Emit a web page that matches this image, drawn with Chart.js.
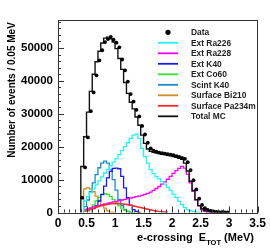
<!DOCTYPE html>
<html><head><meta charset="utf-8">
<script src="https://cdn.jsdelivr.net/npm/chart.js@4/dist/chart.umd.min.js"></script>
<style>html,body{margin:0;padding:0;background:#fff}#c{display:block}</style>
</head><body>
<canvas id="c" width="270" height="249"></canvas>
<script>
// Lower edges of the 0.05 MeV bins
const energyLow = [0.40,0.45,0.50,0.55,0.60,0.65,0.70,0.75,0.80,0.85,0.90,0.95,
  1.00,1.05,1.10,1.15,1.20,1.25,1.30,1.35,1.40,1.45,1.50,1.55,1.60,1.65,1.70,1.75,1.80,1.85,1.90,1.95,
  2.00,2.05,2.10,2.15,2.20,2.25,2.30,2.35,2.40,2.45,2.50,2.55,2.60,2.65,2.70,2.75,2.80,2.85,2.90,2.95];
const binWidth = 0.05;
const xTickValues = [0,0.5,1,1.5,2,2.5,3,3.5];
const yTickValues = [0,10000,20000,30000,40000,50000];

const dataCounts = [4500,13700,22800,30800,36500,41700,46200,49300,51800,52700,53400,52500,
  51600,50200,46500,43200,39800,36000,33700,31200,29200,26300,23700,21200,19500,18800,18500,18200,18000,17900,17700,17600,
  17400,17100,16900,16600,16300,15300,12900,9800,7000,4200,2300,1300,780,480,300,190,120,80,55,35];
const totalMC = [4800,14000,23000,30500,36800,42000,45800,49000,51500,53000,53300,52800,
  51800,49800,46800,43500,39500,36200,33500,31500,29000,26500,23500,21000,19300,18600,18300,18100,17900,17700,17600,17400,
  17200,17000,16800,16500,16200,15000,12600,9500,6700,3900,2100,1200,700,420,260,170,110,70,45,25];
const extRa226 = [null,2300,3500,4800,6000,7200,8400,9600,10800,12000,13100,14200,
  15300,16400,17600,18800,20000,21200,22500,23500,23800,22500,19500,17000,15000,13000,11800,10900,10200,9400,8600,7700,
  6700,5600,4500,3400,2400,1500,900,500,250,100];
const extRa228 = [null,400,800,1100,1400,1700,1900,2100,2400,2600,2800,3000,
  3200,3400,3600,3800,4000,4200,4400,4600,4800,5000,5200,5500,5800,6200,6700,7300,7900,8600,9300,10100,
  11000,11900,12700,13400,14000,13500,11600,9000,6400,3800,2000,900,300,100];
const extK40 = [null,null,null,null,600,1200,2000,3500,5500,8000,10500,12500,
  13400,13500,13300,11000,7500,4500,2200,900,300];
const extCo60 = [null,null,null,400,1200,2300,3500,4600,5400,5700,5500,4800,
  3900,2900,2000,1300,700,300,100];
const scintK40 = [null,500,1800,3800,6300,9000,11500,13600,15000,15600,15000,13000,
  10000,6800,4000,2100,900,300];
const surfBi210 = [null,5000,7200,7500,7200,6300,5000,3700,2400,1300,500,100];
const surfPa234m = [null,300,700,1000,1300,1600,1900,2100,2300,2500,2600,2700,
  2700,2700,2600,2500,2400,2200,2000,1800,1600,1400,1200,1000,800,600,450,300,200,100,50];

const seriesNames = ['Data','Ext Ra226','Ext Ra228','Ext K40','Ext Co60','Scint K40','Surface Bi210','Surface Pa234m','Total MC'];

function histPoints(vals){
  const pts=[]; let last=-1;
  for(let i=0;i<vals.length;i++){
    const v=vals[i]; if(v==null) continue;
    if(last<0) pts.push({x:energyLow[i],y:0});
    pts.push({x:energyLow[i],y:v}); last=i;
  }
  pts.push({x:energyLow[last]+binWidth,y:0});
  return pts;
}
function centerPoints(vals){
  const pts=[];
  for(let i=0;i<vals.length;i++){ if(vals[i]!=null) pts.push({x:energyLow[i]+binWidth/2,y:vals[i]}); }
  return pts;
}
function hist(label,vals,color,order,w){
  return {label,data:histPoints(vals),borderColor:color,backgroundColor:color,borderWidth:w||1.3,
    stepped:'after',pointRadius:0,fill:false,order};
}
const datasets = [
  {label:seriesNames[0],data:centerPoints(dataCounts),showLine:false,pointRadius:1.9,pointStyle:'circle',
   pointBackgroundColor:'#000',pointBorderWidth:0,borderColor:'#000',backgroundColor:'#000',order:0},
  hist(seriesNames[1],extRa226,'#22f4f4',3),
  hist(seriesNames[2],extRa228,'#ff00ff',3),
  hist(seriesNames[3],extK40,'#1a1aee',3),
  hist(seriesNames[4],extCo60,'#2ee62e',3),
  hist(seriesNames[5],scintK40,'#1c88d2',3),
  hist(seriesNames[6],surfBi210,'#d08c1e',3),
  {label:seriesNames[7],data:centerPoints(surfPa234m),borderColor:'#ff2a2a',backgroundColor:'#ff2a2a',
   borderWidth:1.6,pointRadius:0,fill:false,order:2,tension:0.3},
  hist(seriesNames[8],totalMC,'#111',1,1.4)
];

const FONT='Liberation Sans, Arial, sans-serif';
const decor = {
  id:'decor',
  afterDatasetsDraw(chart){
    const {ctx, chartArea:a, scales:{x,y}} = chart;
    ctx.save();
    ctx.strokeStyle='#333'; ctx.lineWidth=1;
    ctx.strokeRect(Math.round(a.left)+0.5, Math.round(a.top)+0.5, Math.round(a.right-a.left)-1, Math.round(a.bottom-a.top));
    ctx.beginPath();
    for(let k=0;k<=35;k++){
      const px=Math.round(x.getPixelForValue(k/10))+0.5, len=(k%5===0)?6:3;
      ctx.moveTo(px,a.bottom); ctx.lineTo(px,a.bottom-len);
    }
    for(let k=0;k<=29;k++){
      const py=Math.round(y.getPixelForValue(k*2000))+0.5, len=(k%5===0)?6:3;
      ctx.moveTo(a.left,py); ctx.lineTo(a.left+len,py);
    }
    ctx.stroke();
    // legend
    const lx0=158, lx1=178, tx=191, y0=32.3, dy=10.5;
    chart.data.datasets.forEach((ds,i)=>{
      const yy=y0+i*dy;
      if(i===0){ ctx.fillStyle='#000'; ctx.beginPath(); ctx.arc((lx0+lx1)/2,yy,2.6,0,Math.PI*2); ctx.fill(); }
      else { ctx.strokeStyle=ds.borderColor; ctx.lineWidth=1.8; ctx.beginPath(); ctx.moveTo(lx0,yy); ctx.lineTo(lx1,yy); ctx.stroke(); }
      ctx.fillStyle='#222'; ctx.font='bold 8.4px '+FONT; ctx.textAlign='left'; ctx.textBaseline='middle';
      ctx.fillText(ds.label,tx,yy+0.5);
    });
    // axis titles
    ctx.fillStyle='#000';
    ctx.save(); ctx.translate(12,90); ctx.rotate(-Math.PI/2);
    ctx.font='bold 10px '+FONT; ctx.textAlign='center'; ctx.textBaseline='middle';
    ctx.fillText('Number of events / 0.05 MeV',0,0); ctx.restore();
    const p1='e-crossing  E', p2='TOT', p3=' (MeV)';
    ctx.textBaseline='alphabetic'; ctx.textAlign='left';
    ctx.font='bold 11px '+FONT; const w1=ctx.measureText(p1).width, w3=ctx.measureText(p3).width;
    ctx.font='bold 7.5px '+FONT; const w2=ctx.measureText(p2).width;
    let sx=254-(w1+w2+w3);
    ctx.font='bold 11px '+FONT; ctx.fillText(p1,sx,241); sx+=w1;
    ctx.font='bold 7.5px '+FONT; ctx.fillText(p2,sx,244.5); sx+=w2;
    ctx.font='bold 11px '+FONT; ctx.fillText(p3,sx,241);
    ctx.restore();
  }
};

new Chart(document.getElementById('c'),{
  type:'line',
  data:{datasets},
  options:{
    responsive:false, animation:false, devicePixelRatio:1,
    layout:{padding:{left:0,top:20,right:11,bottom:0}},
    plugins:{legend:{display:false},tooltip:{enabled:false}},
    scales:{
      x:{type:'linear',min:0,max:3.5,
        grid:{display:false,drawTicks:false},border:{display:false},
        afterBuildTicks:s=>{s.ticks=xTickValues.map(v=>({value:v}));},
        ticks:{padding:4,color:'#000',font:{family:FONT,size:12,weight:'bold'},
          maxRotation:0,autoSkip:false,callback:v=>String(v)},
        afterFit:s=>{s.height=36.5;}},
      y:{type:'linear',min:0,max:58500,
        grid:{display:false,drawTicks:false},border:{display:false},
        afterBuildTicks:s=>{s.ticks=yTickValues.map(v=>({value:v}));},
        ticks:{padding:5,color:'#000',font:{family:FONT,size:11.5,weight:'bold'},
          callback:v=>String(v)},
        afterFit:s=>{s.height;s.width=58;}}
    }
  },
  plugins:[decor]
});
</script>
</body></html>
